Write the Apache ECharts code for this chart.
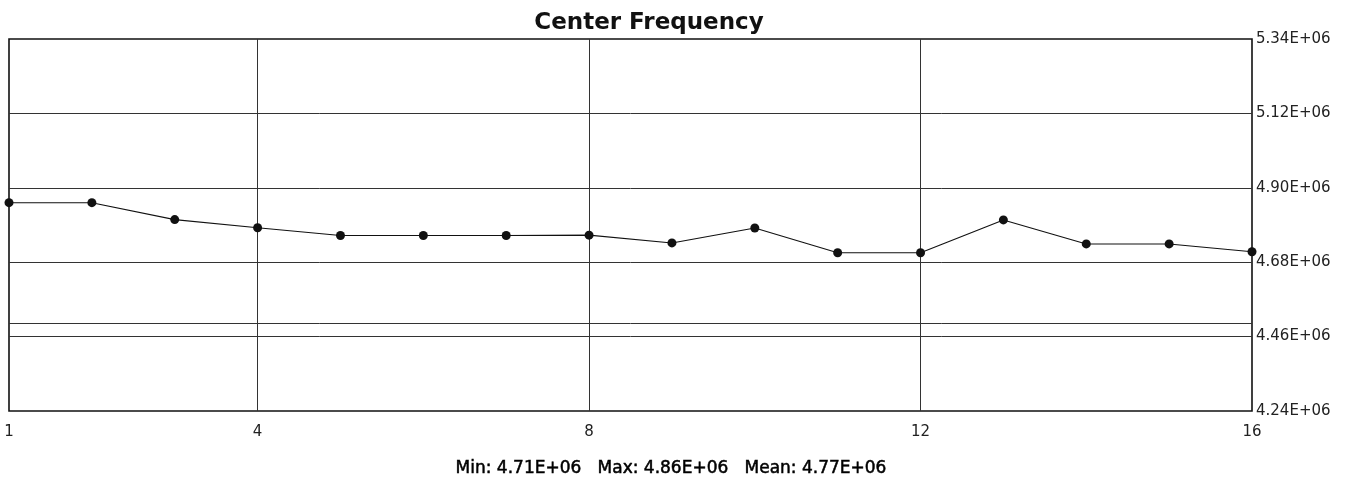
<!DOCTYPE html>
<html>
<head>
<meta charset="utf-8">
<script src="https://cdn.jsdelivr.net/npm/echarts@6/dist/echarts.min.js"></script>
<style>
html,body{margin:0;padding:0;background:#fff;}
#chart{width:1349px;height:480px;}
</style>
</head>
<body>
<div id="chart"></div>
<script>
// Data
var categories = ['1','2','3','4','5','6','7','8','9','10','11','12','13','14','15','16'];
var centerFreq = [4.856e6, 4.856e6, 4.806e6, 4.782e6, 4.759e6, 4.759e6, 4.759e6, 4.760e6,
                  4.737e6, 4.781e6, 4.708e6, 4.708e6, 4.805e6, 4.734e6, 4.734e6, 4.711e6];
var yTicks = [4.24e6, 4.46e6, 4.68e6, 4.90e6, 5.12e6, 5.34e6];
var yGridLines = [4.46e6, 4.68e6, 4.90e6, 5.12e6];
var limitLines = [4.50e6];
var xLabelShown = ['1','4','8','12','16'];
var xGridShown = ['4','8','12'];
var titleText = 'Center Frequency';
var statsText = 'Min: 4.71E+06   Max: 4.86E+06   Mean: 4.77E+06';

var chart = echarts.init(document.getElementById('chart'), null, {renderer:'canvas'});
var font = 'DejaVu Sans';
var hLines = yGridLines.concat(limitLines).map(function(v){ return {yAxis: v}; });

chart.setOption({
  animation: false,
  backgroundColor: '#ffffff',
  title: [
    {text: titleText, left: 644, top: 7, textAlign: 'center',
     textStyle: {fontFamily: font, fontWeight: 'bold', fontSize: 23, color: '#111'}},
    {text: statsText, left: 666, top: 455, textAlign: 'center',
     textStyle: {fontFamily: font, fontWeight: 'normal', fontSize: 17, color: '#000',
                 textBorderColor: '#000', textBorderWidth: 0.5}}
  ],
  grid: {left: 9, right: 97, top: 39, bottom: 69, show: true,
         borderColor: '#111', borderWidth: 1.6, backgroundColor: 'transparent'},
  xAxis: {
    type: 'category', data: categories, boundaryGap: false,
    axisLine: {show: false}, axisTick: {show: false},
    axisLabel: {
      fontFamily: font, fontSize: 15, color: '#222', margin: 14,
      interval: function(i, v){ return xLabelShown.indexOf(v) >= 0; }
    },
    splitLine: {show: true, lineStyle: {color: '#333', width: 1},
      interval: function(i, v){ return xGridShown.indexOf(v) >= 0; }}
  },
  yAxis: {
    type: 'value', position: 'right', min: 4.24e6, max: 5.34e6,
    axisLine: {show: false}, axisTick: {show: false},
    splitLine: {show: false},
    axisLabel: {
      customValues: yTicks,
      fontFamily: font, fontSize: 15, color: '#222', margin: 4,
      formatter: function(v){
        var e = v.toExponential(2).toUpperCase();
        var parts = e.split('E');
        var exp = parseInt(parts[1], 10);
        var sign = exp >= 0 ? '+' : '-';
        var a = Math.abs(exp);
        return parts[0] + 'E' + sign + (a < 10 ? '0' + a : a);
      }
    }
  },
  series: [{
    type: 'line', data: centerFreq,
    symbol: 'circle', symbolSize: 9,
    itemStyle: {color: '#111'},
    lineStyle: {color: '#111', width: 1.1},
    z: 3,
    markLine: {
      silent: true, symbol: ['none','none'], label: {show: false},
      lineStyle: {color: '#333', width: 1, type: 'solid'},
      emphasis: {disabled: true},
      data: hLines, z: 1
    }
  }]
});
</script>
</body>
</html>
